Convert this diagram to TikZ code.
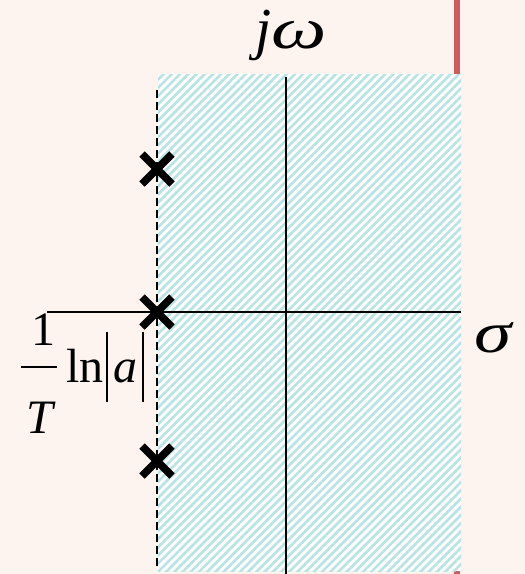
\documentclass[tikz,border=0pt]{standalone}
\usepackage{fontspec}
\usepackage{graphicx}
\setmainfont{Liberation Serif}
\usetikzlibrary{patterns.meta}

\definecolor{bgpaper}{HTML}{FEF4EF}
\definecolor{hatchcyan}{HTML}{B8E3E5}
\definecolor{barred}{HTML}{CD5C5C}

\begin{document}
\begin{tikzpicture}[
  x=1pt, y=-1pt,
  every node/.style = {inner sep=0pt, font=\fontsize{48}{48}\selectfont},
  biglabel/.style = {font=\fontsize{58}{58}\selectfont\itshape},
  axis/.style   = {line width=2pt, black},
  boundary/.style = {line width=2.5pt, black, dash pattern=on 8pt off 4pt},
  polemark/.style = {line width=7.5pt, black},
  thinbar/.style = {line width=1.6pt, black},
  region/.style = {fill=white,
                   pattern={Lines[angle=45, distance=5.8pt, line width=2.6pt]},
                   pattern color=hatchcyan},
]

%% ── Frame ────────────────────────────────────────────────────────────────
\fill[bgpaper] (0,0) rectangle (525,574);
\useasboundingbox (0,0) rectangle (525,574);
\fill[barred] (454,0) rectangle (460,574);

%% ── Stable region (hatched) ──────────────────────────────────────────────
\fill[white] (158,74) rectangle (461,571);
\fill[region] (158,74) rectangle (461,571);

%% ── Axes ─────────────────────────────────────────────────────────────────
\coordinate (imtop) at (286,77);
\coordinate (imbot) at (286,574);
\coordinate (releft) at (47,312);
\coordinate (reright) at (461,312);
\draw[axis] (imtop) -- (imbot);
\draw[axis] (releft) -- (reright);

%% ── Boundary  Re(s) = (1/T) ln|a| ────────────────────────────────────────
\coordinate (bndtop) at (157,90);
\coordinate (bndbot) at (157,566);
\draw[boundary] (bndtop) -- (bndbot);

%% ── Poles ────────────────────────────────────────────────────────────────
\foreach \py/\nm in {169/poleA, 312/poleB, 461/poleC} {
  \coordinate (\nm) at (157,\py);
  \draw[polemark] ([shift={(-15,-15)}]\nm) -- ([shift={(15,15)}]\nm);
  \draw[polemark] ([shift={(-15,15)}]\nm) -- ([shift={(15,-15)}]\nm);
}

%% ── Axis labels ──────────────────────────────────────────────────────────
\node[biglabel, anchor=base] at (291,48) (jw) {j\scalebox{1.35}[1]{ω}};
\node[biglabel, anchor=base] at (493,352) (sigma) {\scalebox{1.3}[1]{σ}};

%% ── Label (1/T) ln|a| ────────────────────────────────────────────────────
\node[anchor=base] at (43,345) (numer) {1};
\node[anchor=base, font=\fontsize{48}{48}\selectfont\itshape]
  at (40,433) (denom) {T};
\coordinate (fracL) at (21,367);
\coordinate (fracR) at (57,367);
\draw[thinbar] (fracL) -- (fracR);
\node[anchor=base west] at (66,382) (lnword) {ln};
\node[anchor=base, font=\fontsize{48}{48}\selectfont\itshape]
  at (125,382) (avar) {a};
\coordinate (absLt) at (107,332);
\coordinate (absLb) at (107,402);
\coordinate (absRt) at (143,332);
\coordinate (absRb) at (143,402);
\draw[thinbar] (absLt) -- (absLb);
\draw[thinbar] (absRt) -- (absRb);

\end{tikzpicture}
\end{document}
